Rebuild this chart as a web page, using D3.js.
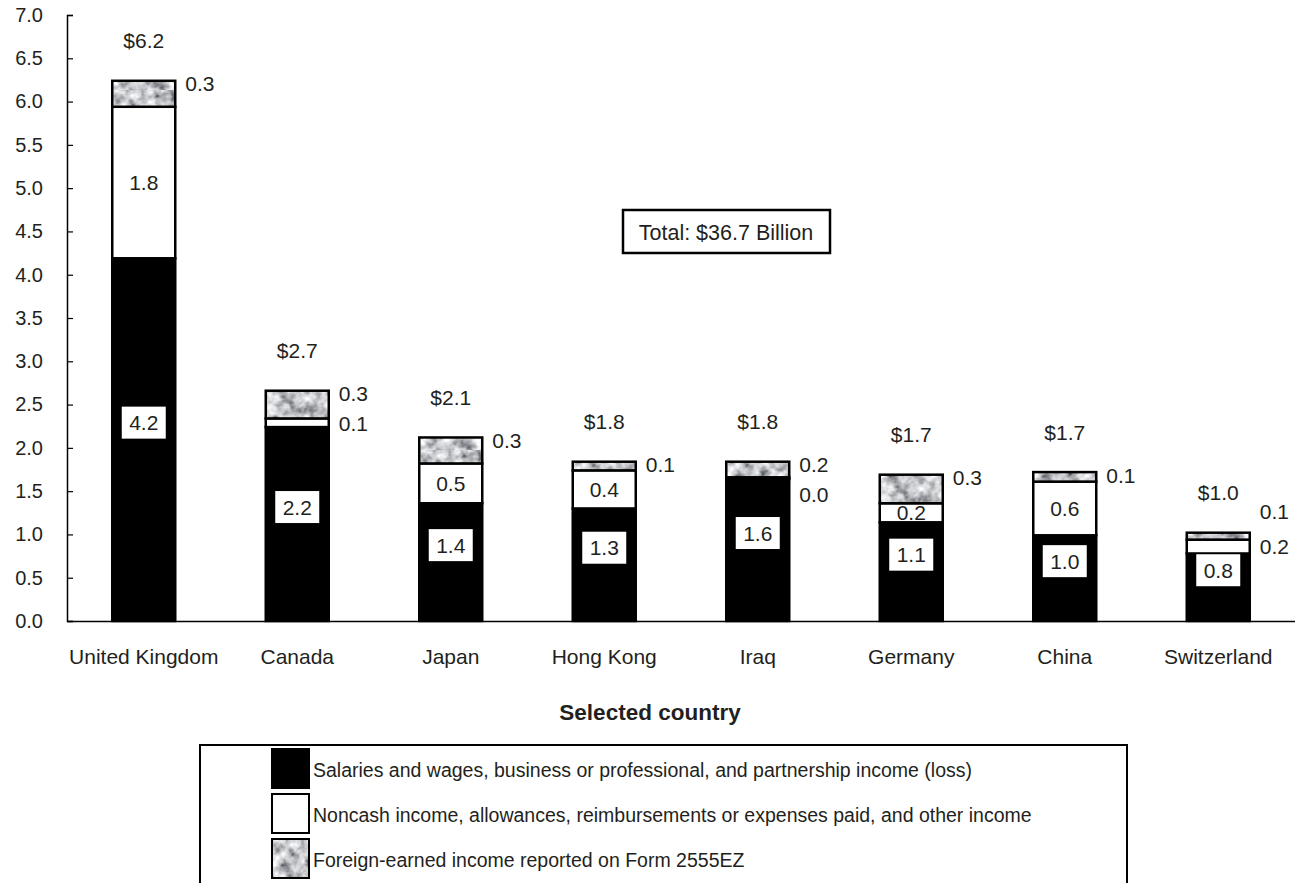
<!DOCTYPE html>
<html>
<head>
<meta charset="utf-8">
<script src="https://cdn.jsdelivr.net/npm/d3@7"></script>
<style>
  body { margin: 0; background: #fff; }
  text { font-family: "Liberation Sans", Arial, sans-serif; fill: #231f20; }
</style>
</head>
<body>
<svg width="1295" height="883"></svg>
<script>
var countries = ["United Kingdom", "Canada", "Japan", "Hong Kong", "Iraq", "Germany", "China", "Switzerland"];
var salaries = [4.19, 2.24, 1.36, 1.30, 1.64, 1.14, 0.99, 0.78];
var noncash = [1.75, 0.10, 0.46, 0.44, 0.02, 0.22, 0.62, 0.16];
var foreign = [0.30, 0.32, 0.30, 0.10, 0.18, 0.33, 0.11, 0.08];
var yTicks = [0, 0.5, 1, 1.5, 2, 2.5, 3, 3.5, 4, 4.5, 5, 5.5, 6, 6.5, 7];
var seriesNames = [
  "Salaries and wages, business or professional, and partnership income (loss)",
  "Noncash income, allowances, reimbursements or expenses paid, and other income",
  "Foreign-earned income reported on Form 2555EZ"
];
var totalNote = "Total: $36.7 Billion";
var xTitle = "Selected country";

var svg = d3.select("svg");
var fmt = d3.format(".1f");

// gray mottled texture for the third series
var defs = svg.append("defs");
var filter = defs.append("filter").attr("id", "noise")
  .attr("x", 0).attr("y", 0).attr("width", "100%").attr("height", "100%");
filter.append("feTurbulence").attr("type", "fractalNoise")
  .attr("baseFrequency", 0.09).attr("numOctaves", 3).attr("seed", 7).attr("result", "n");
filter.append("feColorMatrix").attr("in", "n").attr("type", "matrix")
  .attr("values", "1.7 0 0 0 -0.3  1.7 0 0 0 -0.29  1.7 0 0 0 -0.27  0 0 0 0 1");
var pat = defs.append("pattern").attr("id", "tex")
  .attr("patternUnits", "userSpaceOnUse").attr("width", 90).attr("height", 90);
pat.append("rect").attr("width", 90).attr("height", 90).attr("filter", "url(#noise)");

var fills = ["#000", "#fff", "url(#tex)"];

var data = countries.map(function(c, i) {
  return {country: c, vals: [salaries[i], noncash[i], foreign[i]],
          total: salaries[i] + noncash[i] + foreign[i]};
});

var xScale = d3.scaleBand().domain(countries).range([67, 1295]);
var yScale = d3.scaleLinear().domain([0, 7]).range([621, 15]);
var barW = 63;

// y axis
var yAxis = svg.append("g")
  .attr("transform", "translate(67,0)")
  .call(d3.axisLeft(yScale).tickValues(yTicks).tickFormat(fmt).tickSize(-6).tickPadding(24));
yAxis.select(".domain").attr("stroke", "#000").attr("stroke-width", 1.5);
yAxis.selectAll(".tick line").attr("stroke", "#000").attr("stroke-width", 1.2);
yAxis.selectAll("text").style("font-size", "20px").style("font-family", "Liberation Sans, Arial, sans-serif").attr("fill", "#231f20");

// x axis
var xAxis = svg.append("g")
  .attr("transform", "translate(0,621)")
  .call(d3.axisBottom(xScale).tickSize(0).tickPadding(28));
xAxis.select(".domain").attr("stroke", "#000").attr("stroke-width", 1.5);
xAxis.selectAll("text").style("font-size", "21px").style("font-family", "Liberation Sans, Arial, sans-serif").attr("fill", "#231f20");

svg.append("text")
  .attr("x", 650).attr("y", 720)
  .attr("text-anchor", "middle")
  .style("font-size", "22.5px").style("font-weight", "bold")
  .text(xTitle);

// stacked bars
var bars = svg.selectAll(".bar")
  .data(data)
  .enter()
  .append("g")
  .attr("class", "bar")
  .attr("transform", (d) => "translate(" + (xScale(d.country) + xScale.bandwidth() / 2 - barW / 2) + ",0)");

bars.each(function(d) {
  var g = d3.select(this);
  var base = 0;
  d.segs = d.vals.map(function(v, k) {
    var s = {k: k, v: v, y0: base, y1: base + v};
    base += v;
    return s;
  });
  g.selectAll("rect")
    .data(d.segs)
    .enter()
    .append("rect")
    .attr("x", 0)
    .attr("width", barW)
    .attr("y", (s) => yScale(s.y1))
    .attr("height", (s) => yScale(s.y0) - yScale(s.y1))
    .attr("fill", (s) => fills[s.k])
    .attr("stroke", "#000")
    .attr("stroke-width", 2.5);
});

// labels
bars.each(function(d) {
  var g = d3.select(this);
  var cx = barW / 2;
  var top = yScale(d.total);
  var blk = d.segs[0], wht = d.segs[1], gry = d.segs[2];

  // salaries label in a white box
  var by = (yScale(blk.y0) + yScale(blk.y1)) / 2 - 17;
  g.append("rect")
    .attr("x", cx - 22).attr("y", by - 16)
    .attr("width", 44).attr("height", 32)
    .attr("fill", "#fff");
  g.append("text")
    .attr("x", cx).attr("y", by).attr("dy", "0.36em")
    .attr("text-anchor", "middle")
    .style("font-size", "21px")
    .text(fmt(blk.v));

  // noncash and foreign labels
  var wc = (yScale(wht.y0) + yScale(wht.y1)) / 2;
  var inside = wht.v >= 0.2;
  var gy = top + 3, wy = wc;
  if (!inside) {
    if (gry.v < 0.1) {
      gy = wc - 35;
    } else {
      wy = Math.max(wc, gy + 30);
    }
  }
  g.append("text")
    .attr("x", inside ? cx : barW + 10).attr("y", wy).attr("dy", "0.36em")
    .attr("text-anchor", inside ? "middle" : "start")
    .style("font-size", "21px")
    .text(fmt(wht.v));
  g.append("text")
    .attr("x", barW + 10).attr("y", gy).attr("dy", "0.36em")
    .style("font-size", "21px")
    .text(fmt(gry.v));

  // total
  g.append("text")
    .attr("x", cx).attr("y", top - 40).attr("dy", "0.36em")
    .attr("text-anchor", "middle")
    .style("font-size", "21px")
    .text("$" + fmt(d.total));
});

// total note box
svg.append("rect")
  .attr("x", 623).attr("y", 210).attr("width", 207).attr("height", 43)
  .attr("fill", "#fff").attr("stroke", "#000").attr("stroke-width", 2.5);
svg.append("text")
  .attr("x", 726).attr("y", 232).attr("dy", "0.36em")
  .attr("text-anchor", "middle")
  .style("font-size", "21.5px")
  .text(totalNote);

// legend
svg.append("rect")
  .attr("x", 200).attr("y", 745).attr("width", 927).attr("height", 160)
  .attr("fill", "#fff").attr("stroke", "#000").attr("stroke-width", 2);

var legend = svg.selectAll(".legend")
  .data(seriesNames)
  .enter()
  .append("g")
  .attr("class", "legend")
  .attr("transform", (d, i) => "translate(272," + (749 + i * 45) + ")");

legend.append("rect")
  .attr("width", 37).attr("height", 39)
  .attr("fill", (d, i) => fills[i])
  .attr("stroke", "#000").attr("stroke-width", 2);

legend.append("text")
  .attr("x", 41).attr("y", 21).attr("dy", "0.36em")
  .style("font-size", "19.5px")
  .text((d) => d);
</script>
</body>
</html>
